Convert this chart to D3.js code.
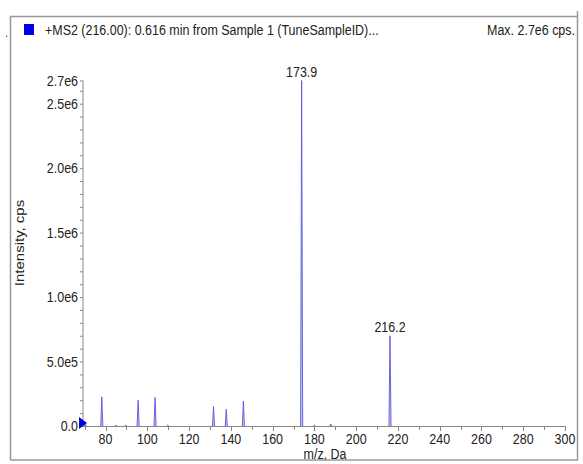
<!DOCTYPE html>
<html>
<head>
<meta charset="utf-8">
<script src="https://cdn.jsdelivr.net/npm/d3@7"></script>
<style>
  body { margin: 0; background: #fff; }
  text { font-family: "Liberation Sans", Arial, sans-serif; fill: #222; }
</style>
</head>
<body>
<svg id="chart" width="583" height="464"></svg>
<script>
// spectrum peaks (m/z, cps)
var peakMz  = [70.3, 78.2, 84.9, 89.7, 95.6, 103.7, 109.8, 131.7, 137.8, 146.0, 173.9, 180.0, 187.8, 216.2];
var peakInt = [1.5e4, 2.27e5, 5e3, 5e3, 2.0e5, 2.22e5, 8e3, 1.5e5, 1.3e5, 1.94e5, 2.68e6, 7e3, 1.5e4, 7.0e5];

// labelled peaks
var labelMz   = [173.9, 216.2];
var labelText = ['173.9', '216.2'];

// axis ticks
var xTicks = [80, 100, 120, 140, 160, 180, 200, 220, 240, 260, 280, 300];
var yTicks = [0, 5e5, 1e6, 1.5e6, 2e6, 2.5e6];
var yTickLabels = ['0.0', '5.0e5', '1.0e6', '1.5e6', '2.0e6', '2.5e6'];
var yMax = 2.68e6, yMaxLabel = '2.7e6';

var titleText = '+MS2 (216.00): 0.616 min from Sample 1 (TuneSampleID)...';
var maxText = 'Max. 2.7e6 cps.';

var svg = d3.select('#chart');
var squash = 0.89; // text looks horizontally narrowed in the reference

// layout
var plot = {l: 83, r: 565, t: 80.5, b: 426};

var xScale = d3.scaleLinear().domain([69.2, 300]).range([plot.l, plot.r]);
var yScale = d3.scaleLinear().domain([0, yMax]).range([plot.b, plot.t]);

function label(x, y, str, anchor, size, rotate) {
    var g = svg.append('g')
        .attr('transform', 'translate(' + [x, y] + ') scale(' + squash + ',1)' + (rotate ? ' rotate(-90)' : ''));
    return g.append('text')
        .attr('text-anchor', anchor)
        .style('font-size', size + 'px')
        .text(str);
}

// header
svg.append('rect')
    .attr('x', 24).attr('y', 24).attr('width', 10).attr('height', 11)
    .attr('fill', '#0000ee');
label(45, 35, titleText, 'start', 14);
label(575, 35, maxText, 'end', 14);
label(5, 37, '.', 'start', 12);

// y axis
var yAxisG = svg.append('g');
yAxisG.append('line')
    .attr('x1', plot.l).attr('x2', plot.l)
    .attr('y1', plot.t).attr('y2', plot.b)
    .attr('stroke', '#888');

var yMinor = d3.range(0, yMax, 1e5).concat([yMax]);
yAxisG.selectAll('.ymin')
    .data(yMinor)
    .enter().append('line')
    .attr('x1', plot.l - 3).attr('x2', plot.l)
    .attr('y1', function(d) { return yScale(d) + 0.5; })
    .attr('y2', function(d) { return yScale(d) + 0.5; })
    .attr('stroke', '#888');

yTicks.forEach(function(v, i) {
    label(78, yScale(v) + 5, yTickLabels[i], 'end', 14);
});
label(78, yScale(yMax) + 5, yMaxLabel, 'end', 14);

// x axis
var xAxisG = svg.append('g');
xAxisG.append('line')
    .attr('x1', plot.l).attr('x2', plot.r)
    .attr('y1', plot.b + 0.5).attr('y2', plot.b + 0.5)
    .attr('stroke', '#888');

var xMinor = d3.range(70, 301, 10);
xAxisG.selectAll('.xmin')
    .data(xMinor)
    .enter().append('line')
    .attr('x1', function(d) { return Math.round(xScale(d)) + 0.5; })
    .attr('x2', function(d) { return Math.round(xScale(d)) + 0.5; })
    .attr('y1', plot.b)
    .attr('y2', function(d) { return plot.b + (d % 20 === 0 ? 5 : 4); })
    .attr('stroke', '#888');

xTicks.forEach(function(v) {
    label(xScale(v), 444, String(v), 'middle', 14);
});

label(325, 459, 'm/z, Da', 'middle', 14);
label(24, 243, 'Intensity, cps', 'middle', 15, true);

// peaks as narrow profiles
var halfWidth = 0.5;
var profile = d3.line()
    .x(function(p) { return xScale(p[0]); })
    .y(function(p) { return yScale(p[1]); });

svg.append('g').selectAll('path')
    .data(peakMz.map(function(m, i) { return [m, peakInt[i]]; }))
    .enter().append('path')
    .attr('d', function(d) {
        return profile([[d[0] - halfWidth, 0], [d[0], d[1]], [d[0] + halfWidth, 0]]);
    })
    .attr('fill', '#c8c8f2')
    .attr('stroke', '#5858dc')
    .attr('stroke-width', 0.9);

// precursor marker at origin
svg.append('path')
    .attr('d', 'M79,417L87,423L79,429Z')
    .attr('fill', '#0000dd');

// peak labels
labelMz.forEach(function(m, i) {
    var idx = peakMz.indexOf(m);
    label(xScale(m), yScale(peakInt[idx]) - 4, labelText[i], 'middle', 14);
});

// frame
var frame = svg.append('g').attr('fill', 'none').attr('stroke', '#999').attr('stroke-width', 1.5);
frame.append('path').attr('d', 'M10.5,460V16.5H577.5');
frame.append('path').attr('d', 'M577.5,11V460H10.5');
</script>
</body>
</html>
